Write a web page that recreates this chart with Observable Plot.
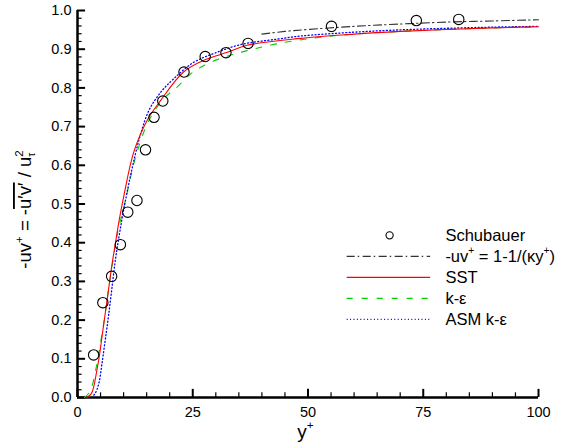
<!DOCTYPE html>
<html>
<head>
<meta charset="utf-8">
<script src="https://cdn.jsdelivr.net/npm/d3@7"></script>
<script src="https://cdn.jsdelivr.net/npm/@observablehq/plot@0.6"></script>
<style>
  html, body { margin: 0; padding: 0; background: #fff; }
  #chart svg { display: block; }
</style>
</head>
<body>
<div id="chart"></div>
<script>
// ---- Data ----
const schubauerX = [3.5, 5.5, 7.4, 9.3, 10.9, 12.9, 14.75, 16.6, 18.5, 23.1, 27.7, 32.2, 37.0, 55.1, 73.5, 82.7];
const schubauerY = [0.110, 0.245, 0.313, 0.395, 0.479, 0.509, 0.640, 0.724, 0.766, 0.841, 0.881, 0.891, 0.915, 0.959, 0.974, 0.977];

const logLawX = [40, 45, 50, 60, 70, 80, 90, 100];
const logLawY = [0.939, 0.946, 0.951, 0.959, 0.965, 0.970, 0.973, 0.976];

const sstX = [2.0, 3.0, 3.5, 4.2, 4.7, 5.3, 6.0, 6.7, 7.4, 8.2, 9.1, 10.0, 12.2, 15.1, 18.0, 23.0, 27.3, 32.5, 36.8, 48.4, 60, 70, 80, 90, 100];
const sstY = [0.0, 0.010, 0.027, 0.070, 0.104, 0.156, 0.216, 0.276, 0.337, 0.397, 0.462, 0.518, 0.634, 0.716, 0.767, 0.841, 0.871, 0.892, 0.910, 0.928, 0.939, 0.946, 0.951, 0.955, 0.958];

const keX = [1.5, 2.5, 3.1, 4.2, 4.9, 5.9, 6.7, 7.8, 8.6, 10.4, 12.6, 15.5, 18.7, 21.6, 24.5, 28.1, 31.7, 35.4, 43.3, 52.7, 60, 70, 80, 90, 100];
const keY = [0.0, 0.012, 0.027, 0.087, 0.134, 0.208, 0.276, 0.362, 0.420, 0.509, 0.621, 0.716, 0.772, 0.802, 0.836, 0.862, 0.879, 0.892, 0.914, 0.931, 0.939, 0.946, 0.951, 0.955, 0.958];

const asmX = [3.0, 3.8, 4.6, 5.3, 6.0, 6.7, 7.4, 8.2, 9.2, 10.4, 11.9, 13.7, 15.5, 18.0, 20.9, 25.2, 29.6, 35.4, 43.3, 48.4, 60, 70, 80, 90, 100];
const asmY = [0.0, 0.010, 0.035, 0.087, 0.147, 0.208, 0.276, 0.354, 0.430, 0.509, 0.595, 0.681, 0.742, 0.788, 0.824, 0.866, 0.889, 0.912, 0.926, 0.934, 0.944, 0.950, 0.954, 0.957, 0.959];

const xMajorTicks = [0, 25, 50, 75, 100];
const yMajorTicks = [0, 0.1, 0.2, 0.3, 0.4, 0.5, 0.6, 0.7, 0.8, 0.9, 1.0];
const xMinorTicks = d3.range(0, 101, 5).filter(v => v % 25 !== 0);
const yMinorTicks = d3.range(0, 51).map(i => i / 50).filter((v, i) => i % 5 !== 0);

const legendLabels = ["Schubauer", "-uv^{+} = 1-1/(κy^{+})", "SST", "k-ε", "ASM k-ε"];
const legendColors = ["#000000", "#333333", "#ff0000", "#00d000", "#0000ff"];
const legendDashes = [null, "8,3,1.5,3.5", null, "6,9", "1,2.4"];

const xTitle = "y^{+}";
const yTitle = "-uv^{+} = -~{u′v′} / u_{τ}^{2}";

// ---- Build tables ----
const toRows = (xs, ys) => xs.map((x, i) => ({x, y: ys[i]}));
const schubauer = toRows(schubauerX, schubauerY);
const logLaw = toRows(logLawX, logLawY);
const sst = toRows(sstX, sstY);
const ke = toRows(keX, keY);
const asm = toRows(asmX, asmY);

// legend layout (data units)
const legX0 = 58.5, legX1 = 76.6, legMarkX = 67.7, legTextX = 79.8;
const legTop = 0.419, legStep = 0.0543;
const legend = legendLabels.map((label, i) => ({
  label, color: legendColors[i], dash: legendDashes[i], y: legTop - i * legStep, i
}));

const FONT = "'Liberation Sans', Arial, Helvetica, sans-serif";

const legendLines = legend.filter(d => d.i > 0).map(d =>
  Plot.ruleY([d], {y: "y", x1: legX0, x2: legX1, stroke: d.color, strokeDasharray: d.dash ?? undefined, strokeWidth: 1.2})
);

const plot = Plot.plot({
  width: 579,
  height: 448,
  marginLeft: 77,
  marginRight: 41,
  marginTop: 10,
  marginBottom: 51,
  style: {fontFamily: FONT, fontSize: "14.5px", background: "#fff", color: "#000", overflow: "visible"},
  x: {domain: [0, 100]},
  y: {domain: [0, 1]},
  marks: [
    // tick labels
    Plot.axisX({ticks: xMajorTicks, tickSize: 0, tickPadding: 9, label: null, tickFormat: d3.format("d"), fontSize: 14.5}),
    Plot.axisY({ticks: yMajorTicks, tickSize: 0, tickPadding: 6, label: null, tickFormat: d3.format(".1f"), fontSize: 14.5}),
    // inward tick marks
    Plot.ruleX(xMajorTicks, {x: d => d, y1: 0, y2: 0.021, stroke: "#000", strokeWidth: 2}),
    Plot.ruleX(xMinorTicks, {x: d => d, y1: 0, y2: 0.012, stroke: "#000", strokeWidth: 1.2}),
    Plot.ruleY(yMajorTicks, {y: d => d, x1: 0, x2: 1.75, stroke: "#000", strokeWidth: 2}),
    Plot.ruleY(yMinorTicks, {y: d => d, x1: 0, x2: 1.0, stroke: "#000", strokeWidth: 1.2}),
    // axis lines
    Plot.ruleY([0], {stroke: "#000", strokeWidth: 2.5}),
    Plot.ruleX([0], {stroke: "#000", strokeWidth: 2.5}),
    // curves
    Plot.line(logLaw, {x: "x", y: "y", stroke: legendColors[1], strokeWidth: 1.1, strokeDasharray: legendDashes[1], curve: "catmull-rom"}),
    Plot.line(ke, {x: "x", y: "y", stroke: legendColors[3], strokeWidth: 1.1, strokeDasharray: legendDashes[3], curve: "catmull-rom"}),
    Plot.line(asm, {x: "x", y: "y", stroke: legendColors[4], strokeWidth: 1.3, strokeDasharray: legendDashes[4], curve: "catmull-rom"}),
    Plot.line(sst, {x: "x", y: "y", stroke: legendColors[2], strokeWidth: 1.1, curve: "catmull-rom"}),
    Plot.dot(schubauer, {x: "x", y: "y", r: 5.2, stroke: "#000", strokeWidth: 1.1, fill: "none"}),
    // legend
    Plot.dot(legend.filter(d => d.i === 0), {x: legMarkX, y: "y", r: 3.6, stroke: "#000", strokeWidth: 1.1, fill: "none"}),
    ...legendLines,
    Plot.text(legend, {x: legTextX, y: "y", text: "label", textAnchor: "start", fontSize: 16.5, fill: "#000", className: "rich"})
  ]
});

document.getElementById("chart").appendChild(plot);

// ---- rich text (super/subscripts, overline) ----
const SVGNS = "http://www.w3.org/2000/svg";
function rich(el, s, F) {
  while (el.firstChild) el.removeChild(el.firstChild);
  const re = /([\^_~])\{([^}]*)\}|([^\^_~]+)/g;
  let m, offset = 0, lastSub = null;
  while ((m = re.exec(s))) {
    const t = document.createElementNS(SVGNS, "tspan");
    if (m[3] !== undefined) {
      t.textContent = m[3];
      if (offset !== 0) t.setAttribute("dy", -offset);
      offset = 0; lastSub = null;
      el.appendChild(t);
    } else if (m[1] === "~") {
      t.textContent = m[2];
      if (offset !== 0) t.setAttribute("dy", -offset);
      offset = 0; lastSub = null;
      t.setAttribute("style", "text-decoration: overline;");
      el.appendChild(t);
    } else if (m[1] === "^") {
      t.textContent = m[2];
      t.setAttribute("font-size", 0.62 * F);
      const target = -0.45 * F;
      t.setAttribute("dy", target - offset);
      if (lastSub) {
        const w = lastSub.getComputedTextLength ? lastSub.getComputedTextLength() : 0.35 * F;
        t.setAttribute("dx", -w);
      }
      offset = target; lastSub = null;
      el.appendChild(t);
    } else {
      t.textContent = m[2];
      t.setAttribute("font-size", 0.55 * F);
      const target = 0.22 * F;
      t.setAttribute("dy", target - offset);
      offset = target;
      el.appendChild(t);
      lastSub = t;
    }
  }
}

const svg = d3.select(plot);
svg.selectAll("g.rich text, .rich text").each(function() {
  const s = this.textContent;
  if (/[\^_~]\{/.test(s)) rich(this, s, 16.5);
});

// axis titles
const xs = plot.scale("x"), ys = plot.scale("y");
const xCenter = (xs.apply(0) + xs.apply(100)) / 2;
const yCenter = (ys.apply(0) + ys.apply(1)) / 2;

const xt = svg.append("text")
  .attr("x", xCenter - 2)
  .attr("y", 438)
  .attr("text-anchor", "middle")
  .attr("font-family", FONT)
  .attr("font-size", 19)
  .attr("fill", "#000");
rich(xt.node(), xTitle, 19);

const yt = svg.append("text")
  .attr("transform", `translate(31,${yCenter + 6}) rotate(-90)`)
  .attr("text-anchor", "middle")
  .attr("font-family", FONT)
  .attr("font-size", 18.5)
  .attr("fill", "#000");
rich(yt.node(), yTitle, 18.5);
</script>
</body>
</html>
